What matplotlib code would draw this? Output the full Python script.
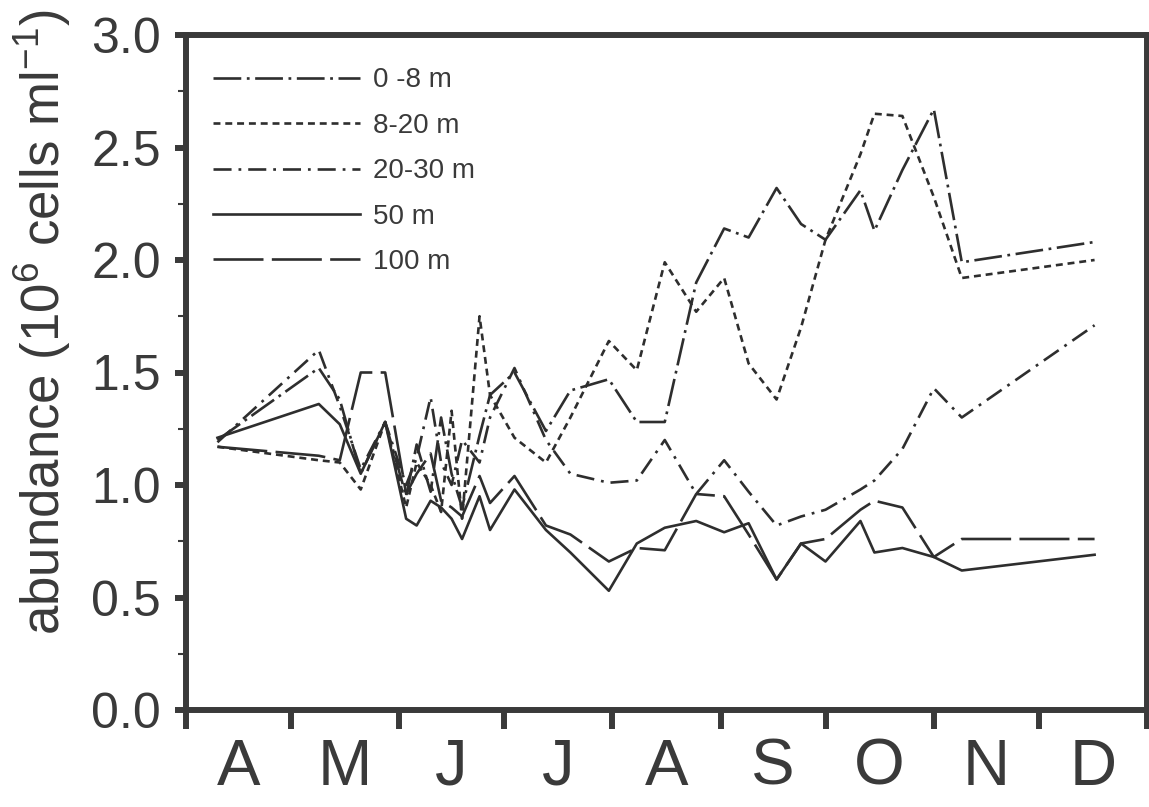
import numpy as np
import matplotlib.pyplot as plt
from matplotlib.ticker import MultipleLocator, FormatStrFormatter

plt.rcParams['font.family'] = ['Liberation Sans', 'DejaVu Sans']
plt.rcParams['mathtext.fontset'] = 'custom'
plt.rcParams['mathtext.rm'] = 'Liberation Sans'
plt.rcParams['lines.scale_dashes'] = False

# sampling days, counted from 1 April
days = [9, 38, 44, 50, 57, 63, 66, 70, 73, 76, 79, 84, 87, 94, 103, 110,
        121, 129, 137, 146, 154, 161, 169, 176, 183, 193, 197, 205, 214, 222, 260]

# abundance, 10^6 cells per ml
d0_8 = [1.20, 1.52, 1.38, 1.05, 1.28, 0.95, 1.18, 0.97, 1.30, 1.05, 0.90, 1.22,
        1.40, 1.50, 1.24, 1.42, 1.47, 1.28, 1.28, 1.90, 2.14, 2.10, 2.32, 2.16,
        2.09, 2.31, 2.13, 2.40, 2.67, 1.99, 2.08]
d8_20 = [1.17, 1.11, 1.10, 0.98, 1.28, 0.90, 1.10, 1.00, 0.88, 1.33, 0.85, 1.75,
         1.40, 1.21, 1.10, 1.30, 1.64, 1.51, 1.99, 1.77, 1.92, 1.54, 1.38, 1.70,
         2.09, 2.47, 2.65, 2.64, 2.28, 1.92, 2.00]
d20_30 = [1.19, 1.60, 1.35, 1.07, 1.28, 1.00, 1.12, 1.39, 1.10, 1.00, 1.20, 1.10,
          1.30, 1.52, 1.20, 1.05, 1.01, 1.02, 1.20, 0.96, 1.11, 0.97, 0.82, 0.86,
          0.89, 0.98, 1.02, 1.16, 1.43, 1.30, 1.71]
d50 = [1.21, 1.36, 1.27, 1.05, 1.28, 0.85, 0.82, 0.93, 0.90, 0.85, 0.76, 0.95,
       0.80, 0.98, 0.80, 0.70, 0.53, 0.74, 0.81, 0.84, 0.79, 0.83, 0.58, 0.74,
       0.66, 0.84, 0.70, 0.72, 0.68, 0.62, 0.69]
d100 = [1.17, 1.13, 1.11, 1.50, 1.50, 0.96, 1.05, 1.14, 0.93, 0.90, 0.86, 1.04,
        0.92, 1.04, 0.82, 0.78, 0.66, 0.72, 0.71, 0.96, 0.95, 0.78, 0.58, 0.74,
        0.76, 0.89, 0.93, 0.90, 0.68, 0.76, 0.76]

depth_labels = ['0 -8 m', '8-20 m', '20-30 m', '50 m', '100 m']
months = ['A', 'M', 'J', 'J', 'A', 'S', 'O', 'N', 'D']
month_len = [30, 31, 30, 31, 31, 30, 31, 30, 31]

styles = [(0, (20, 4, 2, 4)),
          (0, (5, 3.5)),
          (0, (13, 5, 2, 5)),
          '-',
          (0, (36, 6))]

ink = '#3a3a3a'
fig = plt.figure(figsize=(11.49, 8.07), dpi=100)
ax = fig.add_axes([186 / 1149, 97 / 807, 961 / 1149, 675 / 807])

for vals, lab, ls in zip([d0_8, d8_20, d20_30, d50, d100], depth_labels, styles):
    ax.plot(days, vals, color='#2e2e2e', lw=1.9, linestyle=ls, label=lab)

edges = np.concatenate([[0], np.cumsum(month_len)])
mids = (edges[:-1] + edges[1:]) / 2
ax.set_xlim(0, edges[-1])
ax.set_ylim(0, 3.0)

ax.set_xticks(edges)
ax.set_xticklabels([])
ax.set_xticks(mids, minor=True)
ax.set_xticklabels(months, minor=True)
ax.tick_params(axis='x', which='major', direction='out', length=14, width=4.3, color=ink)
ax.tick_params(axis='x', which='minor', length=0, pad=20, labelsize=47, labelcolor=ink)

ax.yaxis.set_major_locator(MultipleLocator(0.5))
ax.yaxis.set_minor_locator(MultipleLocator(0.25))
ax.yaxis.set_major_formatter(FormatStrFormatter('%.1f'))
ax.tick_params(axis='y', which='major', direction='out', length=8, width=4.3,
               pad=10, labelsize=36, color=ink, labelcolor=ink)
ax.tick_params(axis='y', which='minor', direction='out', length=6, width=1.5, color=ink)

for s in ax.spines.values():
    s.set_linewidth(4.3)
    s.set_color(ink)

fig.text(0.037, 0.60, r'abundance (10$^{6}$ cells ml$^{-1}$)', rotation=90,
         ha='center', va='center', fontsize=38, color=ink)

leg = ax.legend(loc='upper left', bbox_to_anchor=(0.028, 0.952), frameon=False,
                fontsize=20, handlelength=5.3, handletextpad=0.45,
                labelspacing=0.70, borderpad=0, borderaxespad=0)
for t in leg.get_texts():
    t.set_color(ink)

fig.savefig('out.png', dpi=100)
